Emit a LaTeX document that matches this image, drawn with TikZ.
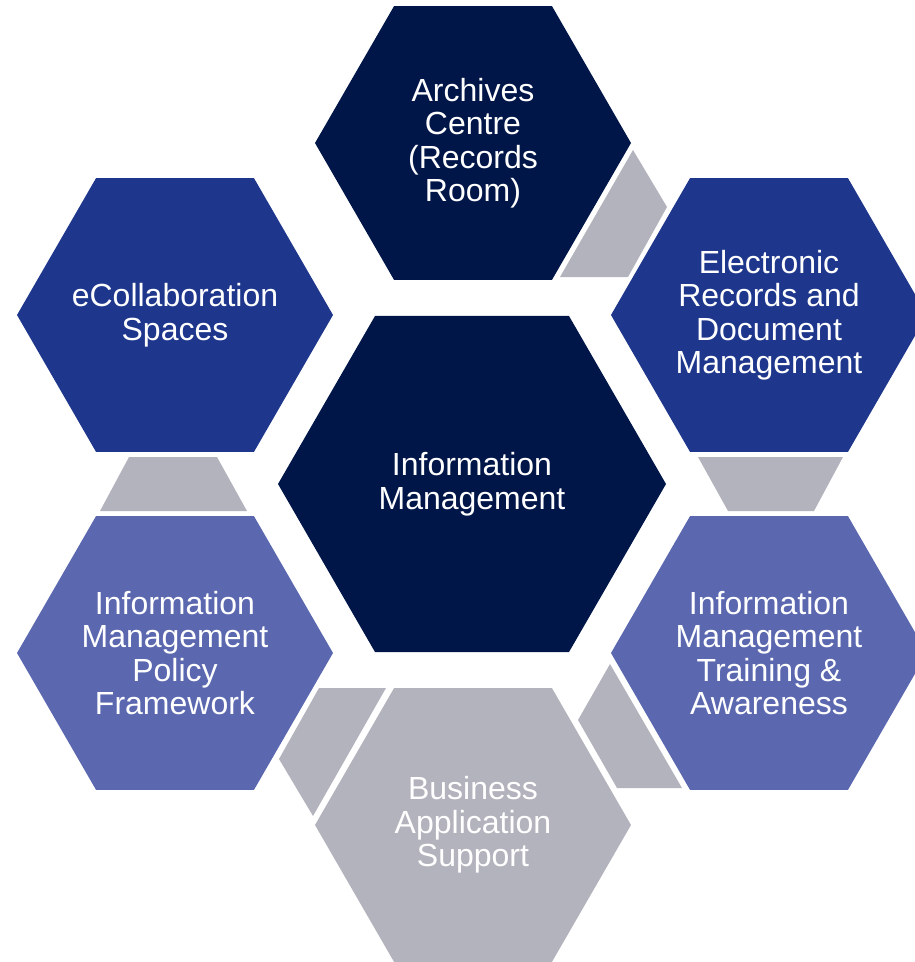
\documentclass[tikz,border=0pt]{standalone}
\usepackage{fontspec}
\setmainfont{Liberation Sans}
\usetikzlibrary{shapes.geometric}

\definecolor{navy}{RGB}{0,22,72}
\definecolor{royal}{RGB}{30,55,140}
\definecolor{slate}{RGB}{91,104,176}
\definecolor{pebble}{RGB}{179,179,189}

\tikzset{
  hexa/.style={regular polygon, regular polygon sides=6, inner sep=0pt,
    minimum size=316pt},
  celltext/.style={text=white, align=center, inner sep=0pt,
    font=\fontsize{32}{33.5}\selectfont},
  link/.style={fill=pebble}
}

\begin{document}
\begin{tikzpicture}[x=1pt, y=-1pt]
\useasboundingbox (0,0) rectangle (915,962);
\clip (0,0) rectangle (915,962);

% gray links between the outer cells
\fill[link] (633,150)--(667,207)--(628,277)--(560,277)--cycle;
\fill[link] (698,457)--(843,457)--(814,511)--(728,511)--cycle;
\fill[link] (610,664)--(578,720)--(617,788)--(682,788)--cycle;
\fill[link] (319,688)--(386,688)--(313,816)--(279,759)--cycle;
\fill[link] (129,457)--(217,457)--(247,511)--(100,511)--cycle;

% cells
\node[hexa, fill=navy, minimum size=388pt,
  label={[celltext]center:{Information\\Management}}] (info) at (472,484) {};
\node[hexa, fill=navy,
  label={[celltext]center:{Archives\\Centre\\(Records\\Room)}}] (archives) at (473,143) {};
\node[hexa, fill=royal,
  label={[celltext]center:{Electronic\\Records and\\Document\\Management}}] (erdm) at (769,315) {};
\node[hexa, fill=slate,
  label={[celltext]center:{Information\\Management\\Training \&\\Awareness}}] (training) at (769,653) {};
\node[hexa, fill=pebble,
  label={[celltext]center:{Business\\Application\\Support}}] (business) at (473,825) {};
\node[hexa, fill=slate,
  label={[celltext]center:{Information\\Management\\Policy\\Framework}}] (policy) at (175,653) {};
\node[hexa, fill=royal,
  label={[celltext]center:{eCollaboration\\Spaces}}] (ecollab) at (175,315) {};
\end{tikzpicture}
\end{document}
